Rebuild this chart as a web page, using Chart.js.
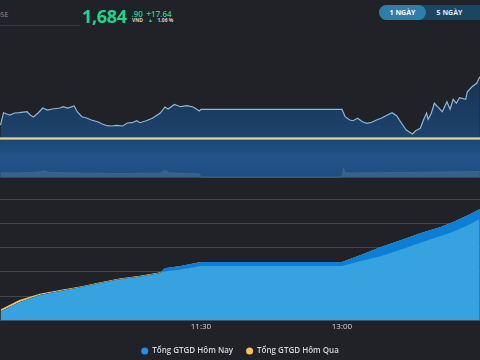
<!DOCTYPE html>
<html><head><meta charset="utf-8">
<script src="https://cdn.jsdelivr.net/npm/chart.js@4/dist/chart.umd.min.js"></script>
<style>
html,body{margin:0;padding:0;background:#202227;width:480px;height:360px;overflow:hidden;font-family:"Open Sans",sans-serif;}
.abs{position:absolute;white-space:nowrap;line-height:1;}
canvas{position:absolute;left:0;display:block;}
#cPrice{top:40px;}
#cVol{top:140px;background:linear-gradient(#1d4776 0%,#22538a 45%,#1f4d80 100%);}
#cTotal{top:180px;}
</style></head><body>
<div class="abs" style="left:-10px;top:11px;font-size:7px;color:#8d9096;">HOSE</div>
<div class="abs" style="left:0;top:25px;width:80px;height:1px;background:#35373c"></div>
<div class="abs" id="big" style="left:82px;top:6.5px;font-size:18px;line-height:18px;font-weight:700;color:#1fd58c;letter-spacing:-0.3px;"></div>
<div class="abs" id="dec" style="left:131.5px;top:9.6px;font-size:8px;line-height:8px;font-weight:600;color:#1fd58c;"></div>
<div class="abs" id="cur" style="left:132px;top:18.3px;font-size:5px;line-height:5px;font-weight:700;color:#d0d2d6;"></div>
<div class="abs" id="chg" style="left:146.5px;top:9.6px;font-size:8px;line-height:8px;font-weight:600;color:#1fd58c;"></div>
<div class="abs" style="left:148px;top:18.3px;font-size:5px;line-height:5px;color:#1fd58c;">▲</div>
<div class="abs" id="pct" style="left:157.5px;top:18.3px;font-size:5px;line-height:5px;font-weight:700;color:#d0d2d6;"></div>
<div class="abs" style="left:379px;top:5px;width:120px;height:15px;border-radius:8px;background:#1b4560;"></div>
<div class="abs" style="left:379px;top:5px;width:47px;height:15px;border-radius:8px;background:#2b7fa9;"></div>
<div class="abs" id="b1" style="left:379px;top:9px;width:47px;text-align:center;font-size:7px;line-height:7px;font-weight:700;color:#ffffff;"></div>
<div class="abs" id="b2" style="left:426px;top:9px;width:47px;text-align:center;font-size:7px;line-height:7px;font-weight:700;color:#e3ebf0;"></div>

<canvas id="cPrice" width="480" height="100"></canvas>
<canvas id="cVol" width="480" height="38"></canvas>
<canvas id="cTotal" width="480" height="185"></canvas>

<script>
// ---- data ----
const lastPrice = 1684.90;
const priceChange = 17.64;
const pctChange = 1.06;
const currency = 'VND';
const rangeButtons = ['1 NGÀY', '5 NGÀY'];

const priceTimes = ['09:22','09:24','09:26','09:28','09:31','09:34','09:39','09:41','09:43','09:46','09:49','09:52','09:55','10:00','10:02','10:05','10:09','10:11','10:14','10:17','10:20','10:24','10:27','10:30','10:33','10:36','10:40','10:43','10:46','10:49','10:51','10:55','10:59','11:04','11:07','11:09','11:13','11:17','11:21','11:25','11:29','11:30','13:00','13:02','13:05','13:07','13:10','13:13','13:16','13:19','13:22','13:25','13:29','13:32','13:35','13:38','13:41','13:45','13:47','13:50','13:52','13:54','13:55','13:57','13:59','14:01','14:04','14:07','14:09','14:11','14:13','14:15','14:19','14:20','14:23','14:26','14:28'];
const priceValues = [1671.04,1674.48,1674.12,1673.84,1674.40,1674.48,1674.76,1673.84,1673.28,1674.40,1675.80,1675.24,1675.52,1675.80,1676.16,1675.80,1676.36,1674.76,1673.36,1673.00,1672.44,1671.96,1671.32,1670.84,1670.76,1670.96,1670.76,1671.60,1671.68,1672.24,1671.68,1672.24,1672.92,1674.40,1676.08,1675.52,1676.78,1676.16,1676.44,1676.08,1674.96,1675.44,1675.44,1673.36,1672.44,1672.24,1672.92,1671.96,1671.52,1671.80,1672.44,1672.92,1673.84,1674.48,1673.56,1671.52,1669.64,1668.52,1669.44,1670.12,1672.44,1674.40,1672.64,1674.32,1677.12,1676.16,1674.76,1677.56,1675.44,1678.24,1677.12,1678.68,1678.24,1680.36,1681.76,1682.72,1684.56];

const volTimes = ['09:22','09:34','09:47','09:50','09:53','10:13','10:38','11:04','11:07','11:10','11:26','11:29','11:30','13:00','13:01','13:02','13:12','13:37','14:03','14:28'];
const volValues = [4,4,5,6.5,4.5,4,3.5,4,6.5,4,3.5,3,0,0,9,4,4,4.5,5,5.5];

const totalTimes = ['09:22','09:34','09:47','10:00','10:13','10:25','10:38','10:51','11:04','11:07','11:17','11:30','13:00','13:12','13:24','13:37','13:50','14:03','14:11','14:22','14:28'];
const todayValues = [1.85,3.75,5.25,6.07,6.83,7.66,8.48,9.06,9.78,10.74,11.22,12.04,12.04,13.48,15.02,16.46,17.95,19.24,20.27,21.92,22.95];
const yesterdayValues = [2.26,4.22,5.49,6.28,7.00,7.82,8.62,9.20,9.92,10.08,10.50,11.22,11.22,12.25,13.17,14.51,15.99,17.39,18.27,19.86,20.93];
const seriesNames = ['Tổng GTGD Hôm Nay', 'Tổng GTGD Hôm Qua'];
const tickLabels = ['11:30', '13:00'];

// ---- helpers ----
const toMin = s => { const p = s.split(':').map(Number); return p[0] * 60 + p[1]; };
const fmt = v => String(Math.floor(v / 60)).padStart(2, '0') + ':' + String(Math.round(v % 60)).padStart(2, '0');
const pts = (times, vals) => times.map((t, i) => ({ x: toMin(t), y: vals[i] }));
const refPrice = +(lastPrice - priceChange).toFixed(2);
const X_MIN = 561.7, X_MAX = 868.1;

// header text
const [intPart, decPart] = lastPrice.toFixed(2).split('.');
document.getElementById('big').textContent = Number(intPart).toLocaleString('en-US');
document.getElementById('dec').textContent = '.' + decPart;
document.getElementById('cur').textContent = currency;
document.getElementById('chg').textContent = '+' + priceChange.toFixed(2);
document.getElementById('pct').textContent = pctChange.toFixed(2) + ' %';
document.getElementById('b1').textContent = rangeButtons[0];
document.getElementById('b2').textContent = rangeButtons[1];

Chart.defaults.font.family = "'Open Sans', sans-serif";
Chart.defaults.animation = false;

const hiddenX = { type: 'linear', min: X_MIN, max: X_MAX, display: false };

// price chart
new Chart(document.getElementById('cPrice'), {
  type: 'line',
  data: { datasets: [
    { data: pts(priceTimes, priceValues), borderColor: '#8fb8d6', borderWidth: 1.2, pointRadius: 0, tension: 0,
      order: 2, fill: 'start',
      backgroundColor: c => { const a = c.chart.chartArea; if (!a) return 'transparent';
        const g = c.chart.ctx.createLinearGradient(0, a.top, 0, a.bottom);
        g.addColorStop(0, '#17283d'); g.addColorStop(1, '#1e446f'); return g; } },
    { data: [{ x: X_MIN, y: refPrice }, { x: X_MAX, y: refPrice }], borderColor: '#7d8c8c', borderWidth: 3, pointRadius: 0, fill: false, order: 1 },
    { data: [{ x: X_MIN, y: refPrice }, { x: X_MAX, y: refPrice }], borderColor: '#e6da8c', borderWidth: 1.3, pointRadius: 0, fill: false, order: 0 }
  ] },
  options: { responsive: false, devicePixelRatio: 1, layout: { padding: 0 },
    plugins: { legend: { display: false }, tooltip: { enabled: false } },
    scales: { x: hiddenX, y: { display: false, min: refPrice - 0.42, max: refPrice + 27.58 } } }
});

// volume chart
new Chart(document.getElementById('cVol'), {
  type: 'line',
  data: { datasets: [
    { data: pts(volTimes, volValues), borderColor: '#40698f', borderWidth: 0.8, pointRadius: 0, tension: 0,
      fill: 'origin', backgroundColor: '#37618b' }
  ] },
  options: { responsive: false, devicePixelRatio: 1, layout: { padding: 0 },
    plugins: { legend: { display: false }, tooltip: { enabled: false } },
    scales: { x: hiddenX, y: { display: false, min: -1, max: 37 } } }
});

// total trading value chart
new Chart(document.getElementById('cTotal'), {
  type: 'line',
  data: { datasets: [
    { label: seriesNames[0], data: pts(totalTimes, todayValues), borderColor: 'rgba(0,0,0,0)', borderWidth: 1,
      backgroundColor: '#1e90f0', pointRadius: 0, tension: 0, order: 1,
      fill: { target: 'origin', above: '#36a3e0', below: '#36a3e0' } },
    { label: seriesNames[1], data: pts(totalTimes, yesterdayValues), borderColor: 'rgba(0,0,0,0)', borderWidth: 1,
      backgroundColor: '#f5c35f', pointRadius: 0, tension: 0, order: 0,
      fill: { target: 0, above: '#f2c062', below: '#0c7ed6' } }
  ] },
  options: { responsive: false, devicePixelRatio: 1,
    layout: { padding: { top: 19, left: 0, right: 0, bottom: 0 } },
    plugins: {
      tooltip: { enabled: false },
      legend: { position: 'bottom', labels: { usePointStyle: true, pointStyle: 'circle', boxWidth: 7, boxHeight: 5,
        color: '#d6d8dc', font: { size: 8, weight: '600' }, padding: 13,
        sort: (a, b) => a.datasetIndex - b.datasetIndex } }
    },
    scales: {
      x: { type: 'linear', min: X_MIN, max: X_MAX, grid: { display: false, drawTicks: false }, border: { display: false },
        afterBuildTicks: s => { s.ticks = tickLabels.map(t => ({ value: toMin(t) })); },
        ticks: { callback: v => fmt(v), color: '#d6d8dc', font: { size: 8 }, maxRotation: 0, autoSkip: false, padding: 2 } },
      y: { min: 0, max: 25, ticks: { stepSize: 5, display: false }, grid: { color: '#45474b', drawTicks: false },
        border: { display: false } }
    }
  }
});
</script>
</body></html>
